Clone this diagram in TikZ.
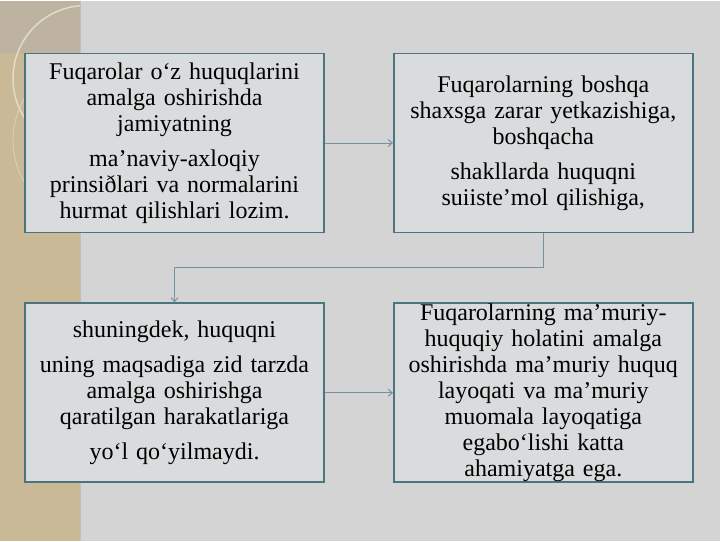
\documentclass[tikz,border=0pt]{standalone}
\usepackage{fontspec}
\setmainfont{Liberation Serif}
\usepackage{xcolor}
\usetikzlibrary{positioning,arrows.meta}
\definecolor{slidegray}{HTML}{D4D4D4}
\definecolor{striptan}{HTML}{C9B996}
\definecolor{stripdark}{HTML}{BDB3A0}
\definecolor{arccream}{HTML}{E2DCC8}
\definecolor{boxfill}{HTML}{D8DCDD}
\definecolor{boxline}{HTML}{4B7380}
\definecolor{linkline}{HTML}{7393A0}
\tikzset{
   textbox/.style={rectangle, draw=boxline, line width=1.8pt, fill=boxfill,
                   minimum width=299pt, minimum height=179pt, inner xsep=4pt, inner ysep=0pt,
                   text width=285pt, align=center, font=\fontsize{24}{26}\selectfont},
   link/.style={draw=linkline, line width=1pt, -{Straight Barb[length=4pt,width=7pt]}}
}

\begin{document}
\begin{tikzpicture}[x=1pt,y=-1pt]
% slide background
\fill[slidegray] (0,0) rectangle (720,540);
\fill[striptan] (0,0) rectangle (80,540);
\begin{scope}
\clip (0,0) rectangle (80,540);
\fill[stripdark] (0,0) rectangle (80,52);
\draw[arccream, line width=1.5pt] (86,78) circle (73);
\draw[arccream!60!striptan, line width=1pt] (95,140) circle (82);
\end{scope}
\draw[black!25, line width=1pt] (80.5,0) -- (80.5,540);

\node (box1) [textbox] at (174.5,142.5) {Fuqarolar o‘z huquqlarini\\ amalga oshirishda\\ jamiyatning\\[9pt]
   ma’naviy-axloqiy\\ prinsiðlari va normalarini\\ hurmat qilishlari lozim.};
\node (box2) [textbox, right=68pt of box1] {Fuqarolarning boshqa\\ shaxsga zarar yetkazishiga,\\ boshqacha\\[9pt]
   shakllarda huquqni\\ suiiste’mol qilishiga,};
\node (box3) [textbox, below=69pt of box1] {shuningdek, huquqni\\[9pt]
   uning maqsadiga zid tarzda\\ amalga oshirishga\\ qaratilgan harakatlariga\\[9pt]
   yo‘l qo‘yilmaydi.};
\node (box4) [textbox, right=68pt of box3] {Fuqarolarning ma’muriy-\\ huquqiy holatini amalga\\ oshirishda ma’muriy huquq\\
   layoqati va ma’muriy\\ muomala layoqatiga\\ egabo‘lishi katta\\ ahamiyatga ega.};

\draw [link] (box1) -- (box2);
\draw [link] (box2.south) -- ++(0,34.5) -| (box3.north);
\draw [link] (box3) -- (box4);
\end{tikzpicture}
\end{document}
